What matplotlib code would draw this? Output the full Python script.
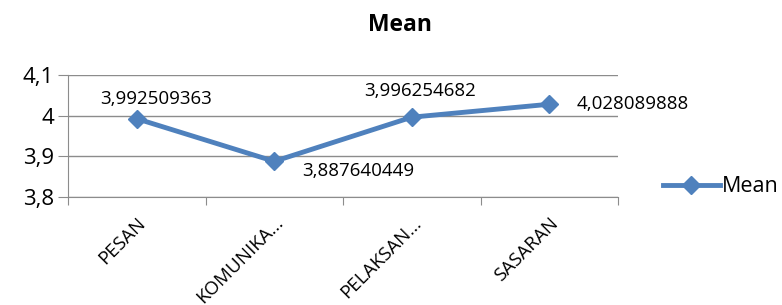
import matplotlib
matplotlib.use("Agg")
import matplotlib.pyplot as plt

categories = ["PESAN", "KOMUNIKA...", "PELAKSAN...", "SASARAN"]
mean_values = [3.992509363, 3.887640449, 3.996254682, 4.028089888]
value_labels = ["3,992509363", "3,887640449", "3,996254682", "4,028089888"]
y_ticks = [3.8, 3.9, 4.0, 4.1]
y_tick_labels = ["3,8", "3,9", "4", "4,1"]
series_name = "Mean"

plt.rcParams['font.family'] = ['Open Sans', 'DejaVu Sans']

fig = plt.figure(figsize=(7.82, 3.05), dpi=100)
ax = fig.add_axes([68/782, 1-197/305, (618-68)/782, (197-75)/305])

color = "#4F81BD"
x = list(range(len(categories)))
ax.plot(x, mean_values, color=color, lw=3.5, marker="D", ms=9.5, label=series_name, zorder=3)

ax.set_xlim(-0.5, len(categories) - 0.5)
ax.set_ylim(3.8, 4.1)
ax.set_yticks(y_ticks)
ax.set_yticklabels(y_tick_labels, fontsize=16)
ax.yaxis.grid(True, color="#8C8C8C", lw=1)
ax.set_axisbelow(True)

ax.set_xticks([i - 0.5 for i in range(len(categories) + 1)])
ax.set_xticklabels([])
ax.set_xticks(x, minor=True)
ax.set_xticklabels(categories, minor=True, rotation=45, ha="right", va="top",
                   rotation_mode="anchor", fontsize=13.5)
ax.tick_params(axis="x", which="minor", length=0, pad=12)
ax.tick_params(axis="x", which="major", length=6, color="#8C8C8C")
ax.tick_params(axis="y", length=7, color="#8C8C8C", pad=3)

for s in ["top", "right"]:
    ax.spines[s].set_visible(False)
for s in ["left", "bottom"]:
    ax.spines[s].set_color("#8C8C8C")

offsets = [((14, 14), "center"), ((20, -7), "left"), ((6, 19), "center"), ((20, 0), "left")]
for xi, yi, lab, (off, ha) in zip(x, mean_values, value_labels, offsets):
    ax.annotate(lab, (xi, yi), xytext=off, textcoords="offset points",
                ha=ha, va="center", fontsize=13.5)

fig.text(400/782, 1-25/305, "Mean", ha="center", va="center", fontsize=16.5, fontweight="bold")

fig.legend(loc="center left", bbox_to_anchor=(654/782, 1-187/305), frameon=False,
           fontsize=15.5, handlelength=2.65, handletextpad=0.1, borderaxespad=0)

fig.savefig("out.png", dpi=100)
